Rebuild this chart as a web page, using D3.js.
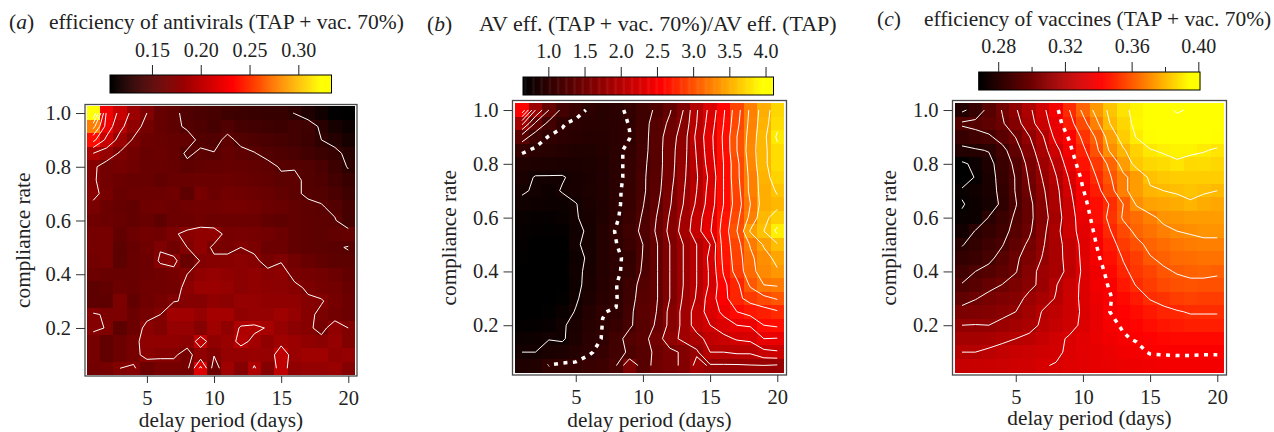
<!DOCTYPE html>
<html>
<head>
<meta charset="utf-8">
<script src="https://cdn.jsdelivr.net/npm/d3@7"></script>
<style>
html, body { margin: 0; padding: 0; background: #fff; }
svg { display: block; }
text { font-family: "Liberation Serif", serif; fill: #222; }
</style>
</head>
<body>
<svg width="1274" height="432"></svg>
<script>
var delays = d3.range(1, 21);
var compliance = [1, .95, .9, .85, .8, .75, .7, .65, .6, .55, .5, .45, .4, .35, .3, .25, .2, .15, .1, .05];

// rows run from compliance 1.0 down to 0.05, columns are delay days 1..20
var avEfficiency = [
    [.33,.226,.205,.183,.17,.157,.153,.146,.143,.142,.138,.137,.135,.134,.134,.1295,.122,.115,.108,.107],
    [.277,.222,.195,.178,.164,.157,.153,.148,.145,.142,.146,.142,.14,.138,.137,.14,.138,.127,.118,.113],
    [.236,.205,.183,.168,.16,.158,.156,.155,.147,.146,.153,.147,.145,.143,.142,.14,.137,.13,.125,.118],
    [.19,.18,.168,.163,.158,.159,.156,.148,.152,.1505,.156,.153,.1505,.147,.145,.143,.14,.136,.134,.126],
    [.173,.1625,.165,.162,.158,.158,.157,.153,.155,.156,.157,.156,.155,.153,.149,.149,.147,.143,.137,.129],
    [.172,.163,.16,.158,.158,.155,.158,.158,.159,.159,.16,.158,.157,.155,.152,.153,.147,.145,.14,.135],
    [.174,.165,.158,.16,.16,.16,.162,.153,.165,.16,.163,.162,.16,.158,.155,.152,.148,.147,.143,.138],
    [.166,.16,.157,.155,.161,.162,.16,.162,.163,.163,.165,.165,.163,.16,.158,.155,.153,.151,.147,.142],
    [.162,.16,.158,.155,.158,.153,.16,.16,.162,.16,.16,.16,.16,.155,.153,.155,.153,.152,.151,.141],
    [.165,.165,.155,.16,.163,.162,.168,.174,.178,.178,.165,.166,.165,.163,.16,.155,.153,.152,.155,.156],
    [.165,.165,.152,.157,.162,.169,.162,.17,.178,.167,.166,.17,.167,.16,.16,.155,.153,.152,.151,.1495],
    [.163,.165,.152,.158,.16,.172,.174,.158,.171,.173,.174,.175,.173,.165,.169,.163,.158,.155,.152,.152],
    [.16,.158,.158,.158,.16,.162,.165,.17,.178,.18,.178,.175,.178,.174,.176,.166,.165,.163,.16,.155],
    [.152,.155,.16,.158,.162,.162,.163,.175,.182,.183,.18,.175,.178,.176,.175,.173,.168,.165,.163,.158],
    [.153,.153,.168,.155,.162,.165,.169,.172,.172,.178,.175,.18,.18,.178,.178,.178,.172,.171,.165,.16],
    [.172,.168,.168,.16,.165,.17,.186,.186,.18,.188,.188,.178,.18,.18,.185,.18,.173,.167,.163,.16],
    [.172,.1695,.152,.16,.175,.17,.18,.18,.172,.185,.178,.192,.193,.189,.18,.175,.173,.165,.178,.17],
    [.165,.155,.16,.165,.177,.178,.178,.175,.2,.178,.182,.195,.186,.178,.185,.183,.178,.175,.18,.17],
    [.165,.155,.16,.165,.175,.172,.172,.165,.178,.171,.18,.18,.182,.18,.2,.182,.185,.185,.178,.18],
    [.163,.165,.17,.172,.16,.165,.165,.165,.215,.16,.185,.172,.192,.172,.2,.178,.18,.18,.182,.172]
];

var avRatio = [
    [2.55,1.8,1.4,1.15,1.06,.98,.94,.96,1.03,1.12,1.23,1.38,1.6,1.98,2.26,2.57,2.92,3.24,3.5,3.72],
    [1.85,1.37,1.15,1.01,.97,.95,.94,.96,1.005,1.13,1.28,1.44,1.65,2,2.3,2.6,2.95,3.26,3.52,3.75],
    [1.3,1.1,.99,.98,.95,.93,.93,.96,.995,1.13,1.3,1.5,1.7,2.05,2.34,2.63,3,3.28,3.55,3.83],
    [1.03,.97,.94,.92,.9,.9,.92,.97,1.03,1.14,1.3,1.52,1.72,2.02,2.33,2.62,3,3.3,3.55,3.75],
    [.9,.88,.87,.86,.86,.87,.9,.96,1.04,1.16,1.3,1.52,1.74,2,2.3,2.6,2.95,3.28,3.55,3.75],
    [.85,.79,.79,.79,.83,.86,.89,.96,1.04,1.17,1.31,1.53,1.76,1.98,2.25,2.6,2.95,3.25,3.52,3.7],
    [.81,.79,.76,.81,.84,.87,.9,.97,1.05,1.17,1.32,1.56,1.78,2,2.28,2.6,2.92,3.25,3.5,3.62],
    [.78,.76,.74,.75,.795,.85,.89,.97,1.06,1.19,1.36,1.58,1.8,2.03,2.3,2.6,2.9,3.2,3.5,3.55],
    [.72,.7,.7,.72,.79,.84,.9,.98,1.08,1.22,1.4,1.62,1.85,2.1,2.35,2.65,2.95,3.25,3.55,3.68],
    [.7,.68,.67,.68,.77,.82,.92,1.01,1.12,1.24,1.42,1.65,1.88,2.12,2.38,2.68,3,3.42,3.6,3.85],
    [.68,.65,.65,.66,.79,.82,.92,.995,1.08,1.2,1.38,1.6,1.8,2,2.2,2.68,2.92,3.22,3.42,3.58],
    [.67,.65,.65,.65,.76,.82,.92,.98,1.03,1.21,1.38,1.6,1.8,2,2.25,2.65,2.9,3.15,3.33,3.45],
    [.66,.64,.64,.65,.77,.83,.92,.98,1.04,1.23,1.38,1.6,1.8,2,2.23,2.62,2.88,3.13,3.3,3.38],
    [.64,.63,.63,.65,.76,.85,.93,.995,1.1,1.28,1.38,1.6,1.8,2,2.23,2.55,2.75,3.03,3.2,3.22],
    [.63,.63,.64,.67,.78,.87,.95,.99,1.12,1.3,1.38,1.6,1.82,2.02,2.3,2.53,2.75,2.87,2.95,3.02],
    [.65,.66,.67,.73,.81,.92,.998,1.005,1.15,1.33,1.4,1.65,1.85,2.1,2.28,2.45,2.6,2.68,2.72,2.78],
    [.68,.69,.71,.78,.85,.94,1.002,1.06,1.17,1.3,1.42,1.65,1.85,2.1,2.2,2.3,2.4,2.42,2.6,2.63],
    [.74,.76,.795,.78,.87,.96,1.005,1.13,1.27,1.33,1.5,1.72,1.85,1.92,2.08,2.15,2.22,2.25,2.4,2.39],
    [.8,.8,.85,.87,.92,.98,1.05,1.15,1.22,1.3,1.45,1.55,1.63,1.77,2,2,2.03,2.03,2.15,2.18],
    [.88,.9,1.005,1.03,1.03,1.07,1.1,1.19,1.58,1.3,1.47,1.55,1.63,1.86,1.78,1.78,1.78,1.79,1.795,1.78]
];

var vacEfficiency = [
    [.278,.284,.293,.3005,.309,.318,.3275,.338,.35,.362,.373,.382,.3885,.392,.395,.397,.401,.399,.396,.395],
    [.2915,.2925,.2955,.299,.306,.316,.3255,.335,.347,.3565,.368,.38,.386,.3925,.395,.396,.397,.397,.396,.395],
    [.284,.287,.2885,.294,.3003,.3095,.319,.333,.341,.352,.361,.3745,.384,.3905,.394,.396,.397,.397,.396,.394],
    [.278,.279,.2805,.287,.296,.306,.316,.327,.338,.348,.358,.371,.379,.385,.3895,.391,.392,.392,.3905,.389],
    [.2685,.272,.277,.285,.292,.303,.313,.3225,.335,.345,.353,.362,.374,.383,.386,.387,.389,.3865,.387,.386],
    [.266,.2705,.276,.284,.2905,.301,.3105,.3195,.331,.342,.35,.359,.368,.374,.3815,.383,.384,.384,.384,.384],
    [.271,.273,.276,.283,.2905,.2995,.3085,.3175,.3285,.3395,.347,.356,.368,.374,.379,.38,.381,.382,.381,.38],
    [.2695,.272,.275,.282,.2895,.2975,.307,.317,.3265,.338,.344,.3505,.36,.371,.375,.376,.377,.379,.377,.376],
    [.271,.272,.2805,.285,.2915,.2975,.306,.3155,.326,.335,.344,.352,.361,.364,.368,.372,.373,.374,.374,.374],
    [.2735,.2805,.2835,.287,.293,.2985,.3075,.317,.327,.333,.342,.3495,.3565,.362,.365,.368,.37,.371,.372,.372],
    [.2795,.283,.286,.2895,.296,.3015,.309,.3165,.324,.3325,.34,.3465,.3535,.358,.362,.364,.366,.367,.368,.368],
    [.283,.285,.288,.293,.2985,.304,.3105,.3165,.3235,.332,.3385,.3445,.3505,.354,.3595,.3615,.3635,.364,.365,.365],
    [.2865,.29,.2925,.2955,.2995,.3065,.313,.3165,.3225,.3315,.3365,.3425,.3485,.3525,.3555,.359,.3605,.3615,.362,.361],
    [.2905,.2935,.2975,.3002,.3035,.3075,.3125,.3195,.3265,.3315,.3375,.3405,.346,.3505,.3535,.3565,.358,.3585,.358,.358],
    [.296,.2995,.3025,.3045,.3065,.3125,.3165,.3205,.327,.3315,.336,.3395,.343,.3465,.3505,.352,.354,.355,.354,.354],
    [.3035,.3045,.3055,.3075,.31,.315,.3205,.323,.327,.331,.335,.34,.3415,.3435,.346,.3485,.3495,.3505,.3505,.3505],
    [.31,.3103,.31,.3125,.315,.317,.3215,.3245,.3275,.3315,.335,.339,.3405,.342,.344,.3455,.3465,.3475,.3475,.3475],
    [.315,.3155,.3165,.318,.32,.322,.325,.328,.331,.333,.3355,.3375,.3395,.3405,.3415,.3425,.343,.343,.343,.343],
    [.32,.32,.3215,.3235,.3255,.3265,.3275,.3285,.3315,.333,.3345,.336,.3375,.3385,.3405,.3405,.3405,.3405,.3405,.3405],
    [.325,.3255,.326,.3265,.3275,.328,.3295,.3305,.332,.333,.334,.335,.336,.3365,.337,.338,.3385,.3385,.338,.338]
];

var levelsA = [.13,.15,.17,.19,.21,.23,.25,.27,.29,.31,.33];
var levelsB = [.8,1.2,1.4,1.6,1.8,2,2.2,2.4,2.6,2.8,3,3.2,3.4,3.6,3.8];
var levelsC = [.27,.28,.29,.3,.31,.32,.33,.35,.36,.37,.38,.39,.4];

var ticksA = [.15,.2,.25,.3];
var ticksB = [1,1.5,2,2.5,3,3.5,4];
var ticksC = [.28,.32,.36,.4];
var minorTicksC = [.3,.34,.38];
var xTicks = [5,10,15,20];
var yTicks = [.2,.4,.6,.8,1];

var heatStops = ["#000000", "#ff0000", "#ffff00"];
var heatPos = [0, .55, .95];

var panels = [
    {letter: "a", title: "efficiency of antivirals (TAP + vac. 70%)", values: avEfficiency, levels: levelsA, dotted: null,
     range: [.107, .334], ticks: ticksA, minor: [], fmt: ".2f",
     plot: {left: 86.5, top: 106.3, right: 355, bottom: 375}, frame: {l: 85, t: 104.5, r: 357, b: 376},
     bar: {x0: 110, x1: 331.5, y0: 75, y1: 93}, letterX: 9, titleX: 49, titleY: 28.5, titleSize: 21.5, tickY: 57, ylabX: 24, labelY: 427},
    {letter: "b", title: "AV eff. (TAP + vac. 70%)/AV eff. (TAP)", values: avRatio, levels: levelsB, dotted: 1,
     range: [.65, 4.11], ticks: ticksB, minor: [], fmt: ".1f",
     plot: {left: 515.3, top: 103.3, right: 784, bottom: 372.3}, frame: {l: 512.5, t: 100.5, r: 786.5, b: 375},
     bar: {x0: 523, x1: 773.5, y0: 77, y1: 95}, letterX: 427, titleX: 479, titleY: 30.5, titleSize: 22, tickY: 58, ylabX: 450, labelY: 427},
    {letter: "c", title: "efficiency of vaccines (TAP + vac. 70%)", values: vacEfficiency, levels: levelsC, dotted: .34,
     range: [.2683, .401], ticks: ticksC, minor: minorTicksC, fmt: ".2f",
     plot: {left: 955.3, top: 103.3, right: 1224, bottom: 372.3}, frame: {l: 952.5, t: 100.5, r: 1226.5, b: 375},
     bar: {x0: 978.7, x1: 1200, y0: 72, y1: 90}, letterX: 877, titleX: 924, titleY: 26, titleSize: 21.4, tickY: 53, ylabX: 890, labelY: 425}
];

var svg = d3.select("svg");

// split a closed contour ring into open runs wherever it touches the outer edge of the grid
function openRuns(ring, nx, ny) {
    function onEdge(p) { return p[0] <= 0 || p[0] >= nx || p[1] <= 0 || p[1] >= ny; }
    var pts = ring.slice(0, -1);
    var start = pts.findIndex(onEdge);
    if (start < 0) return [ring];
    var runs = [], cur = [];
    for (var i = 0; i < pts.length; i++) {
        var p = pts[(start + i) % pts.length];
        if (onEdge(p)) {
            if (cur.length > 1) runs.push(cur);
            cur = [];
        } else {
            cur.push(p);
        }
    }
    if (cur.length > 1) runs.push(cur);
    return runs;
}

panels.forEach(function(p) {
    var g = svg.append("g");
    var stepX = (p.plot.right - p.plot.left) / 20;
    var stepY = (p.plot.bottom - p.plot.top) / 20;

    var x = d3.scaleLinear().domain([1, 20]).range([p.plot.left + stepX / 2, p.plot.right - stepX / 2]);
    var y = d3.scaleLinear().domain([.05, 1]).range([p.plot.bottom - stepY / 2, p.plot.top + stepY / 2]);

    var span = p.range[1] - p.range[0];
    var color = d3.scaleLinear()
        .domain(heatPos.map(function(t) { return p.range[0] + t * span; }))
        .range(heatStops)
        .clamp(true);

    var cells = [];
    p.values.forEach(function(row, j) {
        row.forEach(function(v, i) {
            cells.push({d: delays[i], c: compliance[j], v: v});
        });
    });

    g.selectAll(".cell")
        .data(cells)
        .enter().append("rect")
        .attr("class", "cell")
        .attr("x", function(d) { return x(d.d) - stepX / 2; })
        .attr("y", function(d) { return y(d.c) - stepY / 2; })
        .attr("width", stepX + .4)
        .attr("height", stepY + .4)
        .attr("shape-rendering", "crispEdges")
        .attr("fill", function(d) { return color(d.v); });

    // contour lines
    var flat = d3.merge(p.values);
    var gen = d3.contours().size([20, 20]);
    var toPx = d3.line()
        .x(function(q) { return x(q[0] + .5); })
        .y(function(q) { return y(1 - (q[1] - .5) * .05); });

    function drawLevel(level, cls) {
        var shape = gen.contour(flat, level);
        shape.coordinates.forEach(function(poly) {
            poly.forEach(function(ring) {
                openRuns(ring, 20, 20).forEach(function(run) {
                    var path = g.append("path")
                        .attr("d", toPx(run))
                        .attr("fill", "none")
                        .attr("stroke", "#fff");
                    if (cls === "dot") {
                        path.attr("stroke-width", 3.5).attr("stroke-dasharray", "4 5.5");
                    } else {
                        path.attr("stroke-width", 1);
                    }
                });
            });
        });
    }
    p.levels.forEach(function(l) { drawLevel(l, "line"); });
    if (p.dotted !== null) drawLevel(p.dotted, "dot");

    // frame
    g.append("rect")
        .attr("x", p.frame.l)
        .attr("y", p.frame.t)
        .attr("width", p.frame.r - p.frame.l)
        .attr("height", p.frame.b - p.frame.t)
        .attr("fill", "none")
        .attr("stroke", "#4a4a4a")
        .attr("stroke-width", 1.3);

    // axes
    var xAxis = g.append("g")
        .attr("transform", "translate(0," + p.frame.b + ")")
        .call(d3.axisBottom(x).tickValues(xTicks).tickSize(7).tickPadding(7.5).tickFormat(d3.format("d")));
    var yAxis = g.append("g")
        .attr("transform", "translate(" + p.frame.l + ",0)")
        .call(d3.axisLeft(y).tickValues(yTicks).tickSize(9).tickPadding(5).tickFormat(d3.format(".1f")));
    [xAxis, yAxis].forEach(function(a) {
        a.select(".domain").remove();
        a.selectAll("line").attr("stroke", "#333").attr("stroke-width", 1);
        a.selectAll("text").style("font-family", "Liberation Serif").style("font-size", "20.5px").attr("fill", "#222");
    });

    g.append("text")
        .attr("x", (p.frame.l + p.frame.r) / 2)
        .attr("y", p.labelY)
        .attr("text-anchor", "middle")
        .style("font-size", "21.3px")
        .text("delay period (days)");
    g.append("text")
        .attr("transform", "translate(" + (p.ylabX + 6) + "," + (p.frame.t + p.frame.b) / 2 + ") rotate(-90)")
        .attr("text-anchor", "middle")
        .style("font-size", "21.3px")
        .text("compliance rate");

    // colour bar
    var barScale = d3.scaleLinear().domain(p.range).range([p.bar.x0, p.bar.x1]);
    var barVals = d3.range(p.range[0], p.range[1], span / 220);
    g.selectAll(".swatch")
        .data(barVals)
        .enter().append("rect")
        .attr("class", "swatch")
        .attr("x", function(d) { return barScale(d); })
        .attr("y", p.bar.y0)
        .attr("width", (p.bar.x1 - p.bar.x0) / 220 + .5)
        .attr("height", p.bar.y1 - p.bar.y0)
        .attr("fill", function(d) { return color(d); });
    g.append("rect")
        .attr("x", p.bar.x0)
        .attr("y", p.bar.y0)
        .attr("width", p.bar.x1 - p.bar.x0)
        .attr("height", p.bar.y1 - p.bar.y0)
        .attr("fill", "none")
        .attr("stroke", "#000")
        .attr("stroke-width", 1);

    var barAxis = g.append("g")
        .attr("transform", "translate(0," + p.bar.y0 + ")")
        .call(d3.axisTop(barScale).tickValues(p.ticks).tickSize(10).tickPadding(p.bar.y0 - p.tickY - 10).tickFormat(d3.format(p.fmt)));
    barAxis.select(".domain").remove();
    barAxis.selectAll("line").attr("stroke", "#222").attr("stroke-width", 1);
    barAxis.selectAll("text").style("font-family", "Liberation Serif").style("font-size", "20px").attr("fill", "#222");
    if (p.minor.length) {
        var minorAxis = g.append("g")
            .attr("transform", "translate(0," + p.bar.y0 + ")")
            .call(d3.axisTop(barScale).tickValues(p.minor).tickSize(5).tickFormat(""));
        minorAxis.select(".domain").remove();
        minorAxis.selectAll("line").attr("stroke", "#222").attr("stroke-width", 1);
    }

    // panel letter and title
    var letter = g.append("text")
        .attr("x", p.letterX)
        .attr("y", p.titleY)
        .style("font-size", "21.5px");
    letter.append("tspan").text("(");
    letter.append("tspan").style("font-style", "italic").text(p.letter);
    letter.append("tspan").text(")");

    g.append("text")
        .attr("x", p.titleX)
        .attr("y", p.titleY)
        .style("font-size", p.titleSize + "px")
        .text(p.title);
});
</script>
</body>
</html>
